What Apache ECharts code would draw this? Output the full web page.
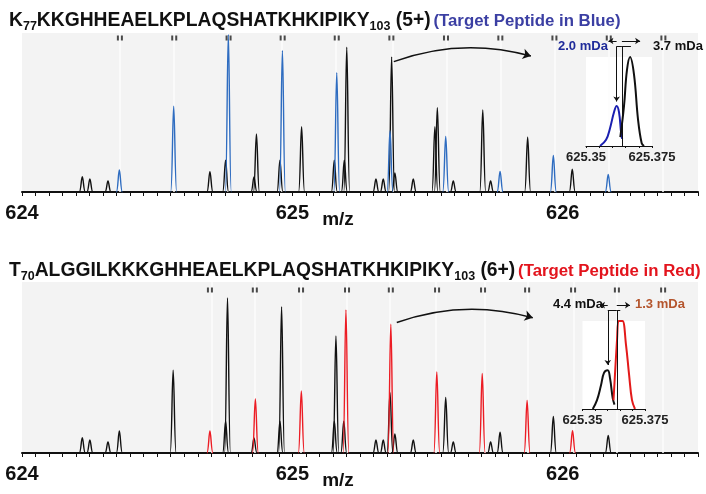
<!DOCTYPE html>
<html><head><meta charset="utf-8">
<script src="https://cdn.jsdelivr.net/npm/echarts@6/dist/echarts.min.js"></script>
<style>html,body{margin:0;padding:0;background:#fff}#c{width:706px;height:494px}</style>
</head><body><div id="c"></div>
<script>
// ---------- data ----------
const xTickLabels = [624, 625, 626];
// top panel (5+ peptide in blue)
const topBlueMz  = [624.360, 624.561, 624.763, 624.963, 625.164, 625.361, 625.567, 625.768, 625.965, 626.168];
const topBlueInt = [13.8, 54, 99, 89, 75, 38.5, 35, 13, 23, 11];
const topBlackMz  = [624.223, 624.251, 624.318, 624.695, 624.753, 624.858, 624.867, 624.954, 625.034, 625.155, 625.192, 625.201, 625.309, 625.336, 625.367, 625.379, 625.447, 625.527, 625.536, 625.595, 625.704, 625.733, 625.870, 626.035];
const topBlackInt = [9.6, 8.2, 6.9, 12.8, 20, 9.4, 36.5, 20, 41, 20, 20, 91, 8.2, 8.2, 85, 12, 8.2, 41, 53, 7, 51.6, 7, 34.4, 14.3];
const topMarks = [624.362, 624.563, 624.764, 624.964, 625.164, 625.366, 625.568, 625.769, 625.969, 626.170, 626.372];
// bottom panel (6+ peptide in red)
const botRedMz  = [624.695, 624.863, 625.033, 625.198, 625.364, 625.534, 625.702, 625.868, 626.036];
const botRedInt = [13.8, 34, 39, 90, 81, 51, 50, 33, 14];
const botBlackMz  = [624.223, 624.251, 624.318, 624.360, 624.559, 624.753, 624.760, 624.858, 624.954, 624.960, 625.155, 625.161, 625.190, 625.309, 625.336, 625.361, 625.379, 625.447, 625.567, 625.595, 625.733, 625.768, 625.965, 626.168];
const botBlackInt = [9.6, 8.2, 6.9, 13.8, 52, 20, 97.5, 9.4, 20, 92, 20, 73.6, 20, 8.2, 8.2, 38, 12, 8.2, 35, 7, 7, 13, 23, 11];
const botMarks = [624.695, 624.861, 625.032, 625.202, 625.364, 625.535, 625.705, 625.868, 626.038, 626.200, 626.371];
// insets
const insetTopBlueMz  = [625.3553, 625.3576, 625.3591, 625.3606, 625.3616, 625.3625, 625.3633, 625.3637];
const insetTopBlueInt = [0, 7, 20, 38, 45, 38, 15, 8];
const insetTopBlackMz  = [625.3630, 625.3644, 625.3655, 625.3667, 625.3682, 625.3697, 625.3711, 625.3720];
const insetTopBlackInt = [10, 45, 85, 100, 80, 30, 3, 0];
const insetTopTheo = 625.3636;
const insetBotBlackMz  = [625.3541, 625.3558, 625.3574, 625.3586, 625.3601, 625.3610, 625.3621, 625.3628];
const insetBotBlackInt = [0, 10, 27, 41, 44, 35, 12, 5];
const insetBotRedMz  = [625.3624, 625.3638, 625.3644, 625.3650, 625.3660, 625.3674, 625.3686, 625.3698, 625.3710];
const insetBotRedInt = [10, 78, 100, 100, 100, 73, 40, 10, 0];
const insetBotTheo = 625.3637;
const insetTickLabels = [625.35, 625.375];
const topTitle = ['K', '77', 'KKGHHEAELKPLAQSHATKHKIPIKY', '103', ' (5+)', '(Target Peptide in Blue)'];
const botTitle = ['T', '70', 'ALGGILKKKGHHEAELKPLAQSHATKHKIPIKY', '103', ' (6+)', '(Target Peptide in Red)'];

// ---------- helpers ----------
const FONT = 'Liberation Sans, Arial, sans-serif';
function pairs(a, b) { return a.map((v, i) => [v, b[i]]); }
function peakSeries(xi, yi, mz, inten, color, hw) {
  return {
    type: 'custom', xAxisIndex: xi, yAxisIndex: yi, data: pairs(mz, inten), clip: false, z: 5,
    renderItem: function (params, api) {
      const p = api.coord([api.value(0), api.value(1)]);
      const b = api.coord([api.value(0), 0]);
      const x = p[0], yt = p[1], yb = b[1];
      const d = 'M' + (x - hw) + ',' + yb + ' C' + (x - hw * 0.45) + ',' + yb + ' ' + (x - hw * 0.35) + ',' + yt + ' ' + x + ',' + yt +
        ' C' + (x + hw * 0.35) + ',' + yt + ' ' + (x + hw * 0.45) + ',' + yb + ' ' + (x + hw) + ',' + yb;
      return { type: 'path', shape: { pathData: d }, style: { fill: 'none', stroke: color, lineWidth: 1.4 } };
    }
  };
}
function markSeries(xi, yi, marks, ymax, off) {
  return {
    type: 'scatter', xAxisIndex: xi, yAxisIndex: yi, data: marks.map(m => [m, ymax]), clip: false,
    symbol: 'path://M0,0h2v5h-2z M4,0h2v5h-2z', symbolSize: [6, 5], symbolOffset: [0, off],
    itemStyle: { color: '#1e1e1e' }, silent: true, z: 6
  };
}
function stripeSeries(xi, yi, marks) {
  return {
    type: 'line', xAxisIndex: xi, yAxisIndex: yi, data: [], z: 1, silent: true,
    markLine: { silent: true, symbol: 'none', label: { show: false }, animation: false,
      lineStyle: { color: '#fdfdfd', width: 1.5, type: 'solid' },
      data: marks.map(m => ({ xAxis: m })) }
  };
}
function titleRich(t) {
  return '{b|' + t[0] + '}{s|' + t[1] + '}{b|' + t[2] + '}{s|' + t[3] + '}{b|' + t[4] + '}{g| }{c|' + t[5] + '}';
}
function rich(col) {
  return {
    b: { fontFamily: FONT, fontWeight: 'bold', fontSize: 19.3, color: '#111', lineHeight: 24 },
    s: { fontFamily: FONT, fontWeight: 'bold', fontSize: 12.5, color: '#111', lineHeight: 12, verticalAlign: 'bottom' },
    g: { fontSize: 10 },
    c: { fontFamily: FONT, fontWeight: 'bold', fontSize: 16.8, color: col, lineHeight: 24 }
  };
}
function mainX(gi) {
  return {
    gridIndex: gi, type: 'value', min: 624, max: 626.5, interval: 0.05,
    axisLine: { lineStyle: { color: '#111', width: 2 } },
    axisTick: { inside: false, length: 4, lineStyle: { color: '#111', width: 1 } },
    axisLabel: { margin: 11, fontFamily: FONT, fontWeight: 'bold', fontSize: 20, color: '#111',
      formatter: v => { const r = Math.round(v); return (Math.abs(v - r) < 1e-6 && xTickLabels.indexOf(r) >= 0) ? String(r) : ''; } },
    splitLine: { show: false },
    name: 'm/z', nameLocation: 'middle', nameGap: 18, nameMoveOverlap: false,
    nameTextStyle: { fontFamily: FONT, fontWeight: 'bold', fontSize: 19, color: '#111', padding: [0, 44, 0, 0] }
  };
}
function insetX(gi) {
  return {
    gridIndex: gi, type: 'value', min: insetTickLabels[0], max: insetTickLabels[1], interval: 0.005, z: 12,
    axisLine: { lineStyle: { color: '#111', width: 1.2 } },
    axisTick: { length: 2, lineStyle: { color: '#111' } },
    axisLabel: { margin: 5, fontFamily: FONT, fontWeight: 'bold', fontSize: 13, color: '#222',
      formatter: v => (Math.abs(v - insetTickLabels[0]) < 1e-7 || Math.abs(v - insetTickLabels[1]) < 1e-7) ? String(+v.toFixed(3)) : '' },
    splitLine: { show: false }
  };
}
function hiddenY(gi, max) {
  return { gridIndex: gi, type: 'value', min: 0, max: max, show: false, splitLine: { show: false } };
}
function curve(xi, mz, inten, color) {
  return { type: 'line', xAxisIndex: xi, yAxisIndex: xi, data: pairs(mz, inten), smooth: 0.4, symbol: 'none',
    lineStyle: { color: color, width: 2 }, z: 8, clip: false };
}
function arrows(xi, segs, color) {
  return { type: 'lines', coordinateSystem: 'cartesian2d', xAxisIndex: xi, yAxisIndex: xi, clip: false, z: 9,
    symbolSize: 5, lineStyle: { color: color, width: 1, opacity: 1 },
    data: segs.map(s => ({ coords: [s[0], s[1]], symbol: s[2] || ['none', 'arrow'] })) };
}

const chart = echarts.init(document.getElementById('c'), null, { renderer: 'canvas' });
const option = {
  animation: false,
  title: [
    { text: titleRich(topTitle), left: 4, top: 4, textStyle: { rich: rich('#3b3fa3') } },
    { text: titleRich(botTitle), left: 4, top: 254, textStyle: { rich: rich('#e3141d') } }
  ],
  grid: [
    { left: 22, right: 8, top: 33, height: 159, show: true, backgroundColor: '#f3f3f3', borderWidth: 0, z: 0 },
    { left: 22, right: 8, top: 282, height: 171, show: true, backgroundColor: '#f3f3f3', borderWidth: 0, z: 0 },
    { left: 586, width: 66, top: 57, height: 89, show: true, backgroundColor: '#ffffff', borderWidth: 0, z: 3 },
    { left: 582.5, width: 62.5, top: 321, height: 88, show: true, backgroundColor: '#ffffff', borderWidth: 0, z: 3 }
  ],
  xAxis: [mainX(0), mainX(1), insetX(2), insetX(3)],
  yAxis: [hiddenY(0, 100), hiddenY(1, 107.5), hiddenY(2, 100), hiddenY(3, 100)],
  series: [
    stripeSeries(0, 0, topMarks),
    stripeSeries(1, 1, botMarks),
    markSeries(0, 0, topMarks, 100, 5),
    markSeries(1, 1, botMarks, 107.5, 8),
    peakSeries(0, 0, topBlackMz, topBlackInt, '#111111', 3),
    peakSeries(0, 0, topBlueMz, topBlueInt, '#2e6cc0', 3),
    peakSeries(1, 1, botBlackMz, botBlackInt, '#111111', 3),
    peakSeries(1, 1, botRedMz, botRedInt, '#ec1c24', 3),
    curve(2, insetTopBlueMz, insetTopBlueInt, '#1a1fb0'),
    curve(2, insetTopBlackMz, insetTopBlackInt, '#111111'),
    curve(3, insetBotBlackMz, insetBotBlackInt, '#111111'),
    curve(3, insetBotRedMz, insetBotRedInt, '#e31a1a'),
    arrows(2, [
      [[insetTopTheo, 112], [insetTopTheo, 0], ['none', 'none']],
      [[625.3616, 112], [625.3616, 50]],
      [[625.3616, 112], [insetTopTheo, 112], ['none', 'none']],
      [[insetTopTheo, 112], [625.3670, 112], ['none', 'none']],
      [[625.3616, 118], [625.3585, 118]],
      [[insetTopTheo, 118], [625.3705, 118]]
    ], '#111'),
    arrows(3, [
      [[insetBotTheo, 112], [insetBotTheo, 0], ['none', 'none']],
      [[625.3601, 112], [625.3601, 50]],
      [[625.3601, 112], [insetBotTheo, 112], ['none', 'none']],
      [[insetBotTheo, 112], [625.3651, 112], ['none', 'none']],
      [[625.3601, 118], [625.3570, 118]],
      [[insetBotTheo, 118], [625.3690, 118]]
    ], '#111'),
    { type: 'lines', coordinateSystem: 'cartesian2d', xAxisIndex: 0, yAxisIndex: 0, clip: false, z: 7,
      symbol: ['none', 'arrow'], symbolSize: 8,
      lineStyle: { color: '#111', width: 1.5, curveness: 0.16, opacity: 1 },
      data: [{ coords: [[625.375, 82], [625.882, 85.5]] }] },
    { type: 'lines', coordinateSystem: 'cartesian2d', xAxisIndex: 1, yAxisIndex: 1, clip: false, z: 7,
      symbol: ['none', 'arrow'], symbolSize: 8,
      lineStyle: { color: '#111', width: 1.5, curveness: 0.16, opacity: 1 },
      data: [{ coords: [[625.386, 82], [625.889, 85]] }] }
  ],
  graphic: [
    { type: 'text', left: 558, top: 40, z: 20, style: { text: '2.0 mDa', fill: '#1f2b9a', font: 'bold 13px ' + FONT } },
    { type: 'text', left: 653, top: 40, z: 20, style: { text: '3.7 mDa', fill: '#111', font: 'bold 13px ' + FONT } },
    { type: 'text', left: 553, top: 298, z: 20, style: { text: '4.4 mDa', fill: '#111', font: 'bold 13px ' + FONT } },
    { type: 'text', left: 635, top: 298, z: 20, style: { text: '1.3 mDa', fill: '#b4552d', font: 'bold 13px ' + FONT } }
  ]
};
chart.setOption(option);
</script></body></html>
